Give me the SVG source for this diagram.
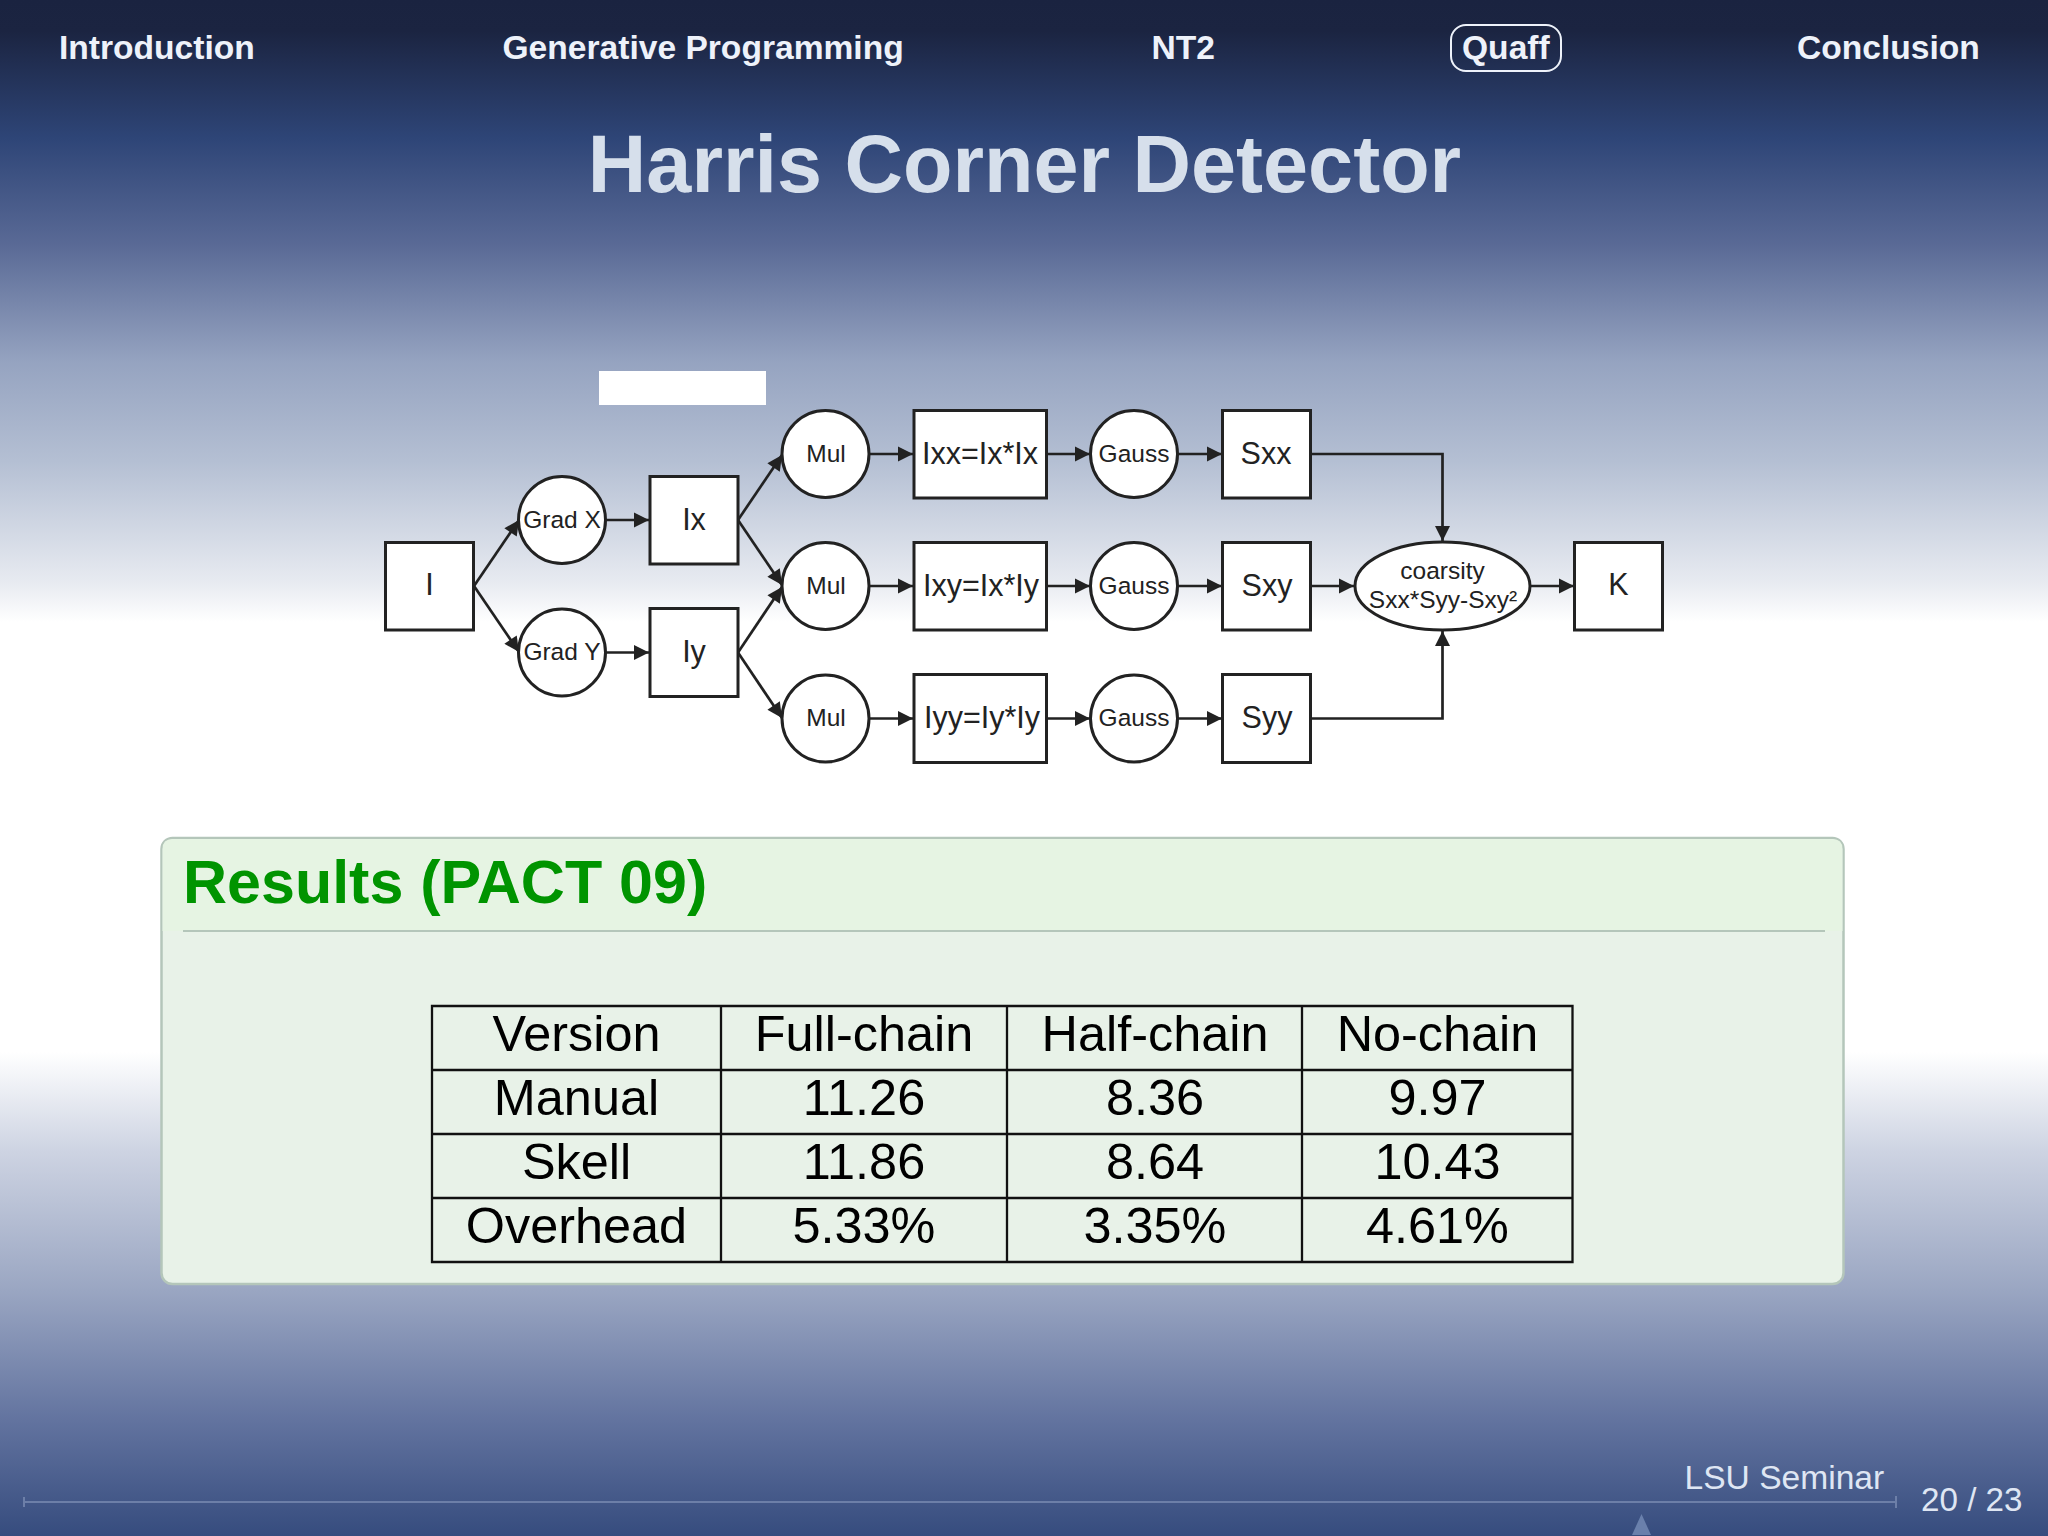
<svg xmlns="http://www.w3.org/2000/svg" width="2048" height="1536" viewBox="0 0 2048 1536">
<style>
text{font-family:"Liberation Sans",Arial,sans-serif}
.nav{font-size:33.6px;font-weight:700;fill:#eef2fa}
.nd{fill:#fff;stroke:#222;stroke-width:3}
.lb{font-size:30.5px;fill:#222;text-anchor:middle}
.ls{font-size:24.5px;fill:#222;text-anchor:middle}
.cn{fill:none;stroke:#222;stroke-width:2.7}
.tb{font-size:50.4px;fill:#000;text-anchor:middle}
.tl{fill:none;stroke:#111;stroke-width:2.3}
</style>
<defs>
<linearGradient id="bg" gradientUnits="userSpaceOnUse" x1="0" y1="0" x2="0" y2="1536">
<stop offset="0" stop-color="#1a2340"/>
<stop offset="0.02" stop-color="#1b2441"/>
<stop offset="0.09" stop-color="#2e4577"/>
<stop offset="0.16" stop-color="#5a6a96"/>
<stop offset="0.235" stop-color="#95a3c0"/>
<stop offset="0.3" stop-color="#b4bfd3"/>
<stop offset="0.38" stop-color="#e8ebf1"/>
<stop offset="0.405" stop-color="#ffffff"/>
<stop offset="0.685" stop-color="#ffffff"/>
<stop offset="0.75" stop-color="#cdd3e2"/>
<stop offset="0.84" stop-color="#9aa6c2"/>
<stop offset="0.925" stop-color="#62739f"/>
<stop offset="1" stop-color="#364c7e"/>
</linearGradient>
<marker id="ah" markerUnits="userSpaceOnUse" markerWidth="18" markerHeight="18" viewBox="0 0 18 18" refX="16" refY="9" orient="auto">
<path d="M1 1.500L16 9L1 16.500Z" fill="#222"/>
</marker>
</defs>
<rect width="2048" height="1536" fill="url(#bg)"/>
<g id="navigation">
<text class="nav" x="59" y="59">Introduction</text>
<text class="nav" x="502.500" y="59">Generative Programming</text>
<text class="nav" x="1151.500" y="59">NT2</text>
<rect x="1451" y="25" width="110" height="46" rx="15" fill="none" stroke="#eef2fa" stroke-width="2"/>
<text class="nav" x="1462" y="59">Quaff</text>
<text class="nav" x="1797" y="59">Conclusion</text>
</g>
<text x="1024.500" y="192" font-size="81" font-weight="700" fill="#d6dfeb" text-anchor="middle">Harris Corner Detector</text>
<rect x="599" y="371" width="167" height="34" fill="#fff"/>
<g id="connectors" class="cn">
<path class="cn" marker-end="url(#ah)" d="M474 586L519 520"/>
<path class="cn" marker-end="url(#ah)" d="M474 586L519 652"/>
<path class="cn" marker-end="url(#ah)" d="M606 520H649"/>
<path class="cn" marker-end="url(#ah)" d="M606 652.500H649"/>
<path class="cn" marker-end="url(#ah)" d="M738 520L782 455"/>
<path class="cn" marker-end="url(#ah)" d="M738 520L782 585"/>
<path class="cn" marker-end="url(#ah)" d="M738 652.500L782 587"/>
<path class="cn" marker-end="url(#ah)" d="M738 652.500L782 718"/>
<path class="cn" marker-end="url(#ah)" d="M869 454H913"/>
<path class="cn" marker-end="url(#ah)" d="M869 586H913"/>
<path class="cn" marker-end="url(#ah)" d="M869 718.500H913"/>
<path class="cn" marker-end="url(#ah)" d="M1047 454H1090"/>
<path class="cn" marker-end="url(#ah)" d="M1047 586H1090"/>
<path class="cn" marker-end="url(#ah)" d="M1047 718.500H1090"/>
<path class="cn" marker-end="url(#ah)" d="M1178 454H1222"/>
<path class="cn" marker-end="url(#ah)" d="M1178 586H1222"/>
<path class="cn" marker-end="url(#ah)" d="M1178 718.500H1222"/>
<path class="cn" marker-end="url(#ah)" d="M1310 454H1442.500V541"/>
<path class="cn" marker-end="url(#ah)" d="M1310 586H1354"/>
<path class="cn" marker-end="url(#ah)" d="M1310 718.500H1442.500V631"/>
<path class="cn" marker-end="url(#ah)" d="M1530 586H1574"/>
</g>
<g id="n-i"><rect class="nd" x="385.500" y="542.500" width="88" height="87.500"/><text class="lb" x="429.500" y="595">I</text></g>
<g id="n-gradx"><circle class="nd" cx="562" cy="520" r="43.500"/><text class="ls" x="562" y="528">Grad X</text></g>
<g id="n-grady"><circle class="nd" cx="562" cy="652.500" r="43.500"/><text class="ls" x="562" y="660">Grad Y</text></g>
<g id="n-ix"><rect class="nd" x="650" y="476.500" width="88" height="87.500"/><text class="lb" x="694" y="530">Ix</text></g>
<g id="n-iy"><rect class="nd" x="650" y="608.500" width="88" height="88"/><text class="lb" x="694" y="662">Iy</text></g>
<g id="n-mul1"><circle class="nd" cx="825.500" cy="454" r="43.500"/><text class="ls" x="826" y="462">Mul</text></g>
<g id="n-mul2"><circle class="nd" cx="825.500" cy="586" r="43.500"/><text class="ls" x="826" y="594">Mul</text></g>
<g id="n-mul3"><circle class="nd" cx="825.500" cy="718.500" r="43.500"/><text class="ls" x="826" y="726">Mul</text></g>
<g id="n-ixx"><rect class="nd" x="914" y="410.500" width="132.500" height="87.500"/><text class="lb" x="980" y="464">Ixx=Ix*Ix</text></g>
<g id="n-ixy"><rect class="nd" x="914" y="542.500" width="132.500" height="87.500"/><text class="lb" x="981" y="596">Ixy=Ix*Iy</text></g>
<g id="n-iyy"><rect class="nd" x="914" y="674.500" width="132.500" height="88"/><text class="lb" x="982" y="728">Iyy=Iy*Iy</text></g>
<g id="n-gauss1"><circle class="nd" cx="1134" cy="454" r="43.500"/><text class="ls" x="1134" y="462">Gauss</text></g>
<g id="n-gauss2"><circle class="nd" cx="1134" cy="586" r="43.500"/><text class="ls" x="1134" y="594">Gauss</text></g>
<g id="n-gauss3"><circle class="nd" cx="1134" cy="718.500" r="43.500"/><text class="ls" x="1134" y="726">Gauss</text></g>
<g id="n-sxx"><rect class="nd" x="1222.500" y="410.500" width="88" height="87.500"/><text class="lb" x="1266" y="464">Sxx</text></g>
<g id="n-sxy"><rect class="nd" x="1222.500" y="542.500" width="88" height="87.500"/><text class="lb" x="1267" y="596">Sxy</text></g>
<g id="n-syy"><rect class="nd" x="1222.500" y="674.500" width="88" height="88"/><text class="lb" x="1267" y="728">Syy</text></g>
<g id="n-coarsity"><ellipse class="nd" cx="1442.500" cy="586" rx="87.500" ry="44"/><text class="ls" x="1442.500" y="579">coarsity</text><text class="ls" x="1443" y="608">Sxx*Syy-Sxy²</text></g>
<g id="n-k"><rect class="nd" x="1574.500" y="542.500" width="88" height="87.500"/><text class="lb" x="1618.500" y="595">K</text></g>
<g id="results-block">
<rect x="161.500" y="838" width="1682" height="446" rx="11" fill="#e8f2e8" stroke="#b4c6ba" stroke-width="2.500"/>
<path d="M162.500 931V849Q162.500 839 172.500 839H1832.500Q1842.500 839 1842.500 849V931Z" fill="#e6f4e3"/>
<path d="M183 931H1825" stroke="#b4c6ba" stroke-width="2"/>
<text x="183" y="903" font-size="61" font-weight="700" fill="#009400">Results (PACT 09)</text>
</g>
<g id="table">
<path class="tl" d="M432 1006H1572.500V1262H432ZM432 1070H1572.500M432 1134H1572.500M432 1198H1572.500M721 1006V1262M1007 1006V1262M1302 1006V1262"/>
<text class="tb" x="576.500" y="1051">Version</text><text class="tb" x="864" y="1051">Full-chain</text><text class="tb" x="1155" y="1051">Half-chain</text><text class="tb" x="1437.500" y="1051">No-chain</text>
<text class="tb" x="576.500" y="1115">Manual</text><text class="tb" x="864" y="1115">11.26</text><text class="tb" x="1155" y="1115">8.36</text><text class="tb" x="1437.500" y="1115">9.97</text>
<text class="tb" x="576.500" y="1179">Skell</text><text class="tb" x="864" y="1179">11.86</text><text class="tb" x="1155" y="1179">8.64</text><text class="tb" x="1437.500" y="1179">10.43</text>
<text class="tb" x="576.500" y="1243">Overhead</text><text class="tb" x="864" y="1243">5.33%</text><text class="tb" x="1155" y="1243">3.35%</text><text class="tb" x="1437.500" y="1243">4.61%</text>
</g>
<g id="footer">
<path d="M24 1502H1896M24 1497V1507M1896 1496V1508" stroke="#6d7fa8" stroke-width="2" fill="none"/>
<path d="M1641.500 1514L1651 1535H1632Z" fill="#6a80ac"/>
<text x="1684.500" y="1489" font-size="33.600" fill="#dfe6f3">LSU Seminar</text>
<text x="1921" y="1511" font-size="33.200" fill="#dfe6f3">20 / 23</text>
</g>
</svg>
